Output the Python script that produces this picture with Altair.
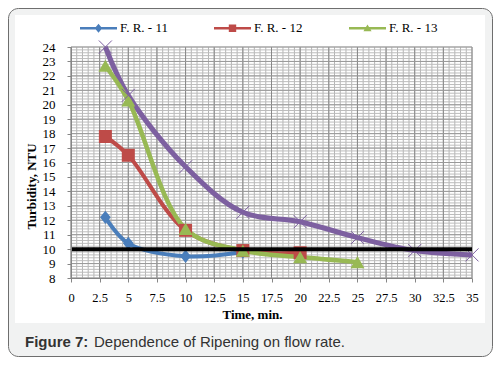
import altair as alt
import pandas as pd

# ---------------- data ----------------
series_names = ["F. R. - 11", "F. R. - 12", "F. R. - 13"]
extra_name = "F. R. - 14"

fr11_time = [3, 5, 10, 15]
fr11_ntu = [12.2, 10.4, 9.5, 9.8]
fr12_time = [3, 5, 10, 15, 20]
fr12_ntu = [17.8, 16.5, 11.3, 9.9, 9.75]
fr13_time = [3, 5, 10, 15, 20, 25]
fr13_ntu = [22.7, 20.3, 11.4, 9.9, 9.45, 9.1]
fr14_time = [3, 5, 10, 15, 20, 25, 30, 35]
fr14_ntu = [24.0, 20.65, 15.7, 12.55, 11.9, 10.8, 9.9, 9.6]
standard_ntu = [10]

x_ticks = [0, 2.5, 5, 7.5, 10, 12.5, 15, 17.5, 20, 22.5, 25, 27.5, 30, 32.5, 35]
y_ticks = list(range(8, 25))
grid_x_minor = [i * 0.5 for i in range(71)]
grid_y_minor = [round(8 + i * 0.2, 2) for i in range(81)]

caption_bold = ["Figure 7:"]
caption_text = ["Dependence of Ripening on flow rate."]

# ---------------- styles ----------------
colors = ["#4A7EBB", "#BE4B48", "#98B954"]
purple = "#7D60A0"
serif = "Liberation Serif"
sans = "Liberation Sans"

x_scale = alt.Scale(domain=[0, 35], nice=False, zero=False)
y_scale = alt.Scale(domain=[8, 24], nice=False, zero=False)


def sdf(t, v, name):
    return pd.DataFrame({"time": t, "ntu": v, "series": name})


df11 = sdf(fr11_time, fr11_ntu, series_names[0])
df12 = sdf(fr12_time, fr12_ntu, series_names[1])
df13 = sdf(fr13_time, fr13_ntu, series_names[2])
df14 = sdf(fr14_time, fr14_ntu, extra_name)
all_df = pd.concat([df11, df12, df13, df14], ignore_index=True)

one = pd.DataFrame({"k": [0]})

x_axis = alt.Axis(
    values=x_ticks, format=".1~f", title="Time, min.", grid=False, zindex=1,
    tickSize=4, tickColor="#868686", domainColor="#868686",
    labelFont=serif, labelFontSize=12.5, labelColor="black", labelPadding=9,
    labelFlush=False, labelOverlap=False,
    titleFont=serif, titleFontSize=13, titleFontWeight="bold", titleColor="black",
    titleX=181, titleY=40, titleAlign="center", titleBaseline="alphabetic",
)
y_axis = alt.Axis(
    values=y_ticks, format="d", title="Turbidity, NTU", grid=False, zindex=1,
    tickSize=4, tickColor="#868686", domainColor="#868686",
    labelFont=serif, labelFontSize=13, labelColor="black", labelPadding=12,
    labelFlush=False, labelOverlap=False,
    titleFont=serif, titleFontSize=13, titleFontWeight="bold", titleColor="black",
    titleAngle=270, titleX=-36, titleY=139, titleAlign="center", titleBaseline="alphabetic",
)


def X(field):
    return alt.X(field, scale=x_scale, axis=x_axis)


def Y(field):
    return alt.Y(field, scale=y_scale, axis=y_axis)


frame = alt.Chart(one).mark_rect(
    fill="#f1f2f2", stroke="#6e6e6e", strokeWidth=1, cornerRadius=10
).encode(x=alt.value(-62.5), x2=alt.value(421.5), y=alt.value(-38.5), y2=alt.value(309.5))

white = alt.Chart(one).mark_rect(fill="white").encode(
    x=alt.value(-56), x2=alt.value(414), y=alt.value(-32), y2=alt.value(276)
)

gx_minor = alt.Chart(pd.DataFrame({"g": grid_x_minor})).mark_rule(
    color="#b4b4b4", strokeWidth=1
).encode(x=X("g:Q"))
gy_minor = alt.Chart(pd.DataFrame({"g": grid_y_minor})).mark_rule(
    color="#bcbcbc", strokeWidth=1
).encode(y=Y("g:Q"))
gx_major = alt.Chart(pd.DataFrame({"g": x_ticks})).mark_rule(
    color="#888888", strokeWidth=1
).encode(x=X("g:Q"))
gy_major = alt.Chart(pd.DataFrame({"g": y_ticks})).mark_rule(
    color="#999999", strokeWidth=1
).encode(y=Y("g:Q"))


def line_layer(d, color, width):
    return alt.Chart(d).mark_line(
        interpolate="catmull-rom", color=color, strokeWidth=width
    ).encode(x=X("time:Q"), y=Y("ntu:Q"))


def point_layer(d, color, shape, size, filled=True, sw=0):
    return alt.Chart(d).mark_point(
        shape=shape, size=size, filled=filled, color=color, opacity=1, strokeWidth=sw
    ).encode(x=X("time:Q"), y=Y("ntu:Q"))


l14 = line_layer(df14, purple, 5)
l11 = line_layer(df11, colors[0], 4)
l12 = line_layer(df12, colors[1], 4)
l13 = line_layer(df13, colors[2], 4.5)

p11 = point_layer(df11, colors[0], "M0,-1L0.8,0L0,1L-0.8,0Z", 180)
p12 = point_layer(df12, colors[1], "square", 169)
p13 = point_layer(df13, colors[2], "triangle-up", 196)
p14 = point_layer(df14, purple, "M-1,-1L1,1M1,-1L-1,1", 169, filled=False, sw=1)

standard = alt.Chart(pd.DataFrame({"s": standard_ntu})).mark_rule(
    color="black", strokeWidth=4
).encode(y=Y("s:Q"))

legend_paths = [
    "M-1,-0.07H1V0.07H-1Z M0,-0.24L0.2,0L0,0.24L-0.2,0Z",
    "M-1,-0.07H1V0.07H-1Z M-0.2,-0.2H0.2V0.2H-0.2Z",
    "M-1,-0.07H1V0.07H-1Z M0,-0.2L0.22,0.16H-0.22Z",
]
leg = alt.Legend(
    title=None, orient="none", legendX=9, legendY=-37.5, direction="horizontal",
    columns=3, columnPadding=46, symbolSize=1369, symbolStrokeWidth=0,
    labelOffset=3, labelFont=serif, labelFontSize=13, labelColor="black",
    padding=0, symbolOpacity=1,
)
legend_layer = alt.Chart(all_df).transform_filter("false").mark_point(
    filled=True, opacity=1, size=1369
).encode(
    x=X("time:Q"),
    y=Y("ntu:Q"),
    color=alt.Color("series:N", scale=alt.Scale(domain=series_names, range=colors), legend=leg),
    shape=alt.Shape("series:N", scale=alt.Scale(domain=series_names, range=legend_paths), legend=leg),
)

cap1 = alt.Chart(pd.DataFrame({"t": caption_bold})).mark_text(
    font=sans, fontSize=15, fontWeight="bold", color="#333333", align="left", baseline="alphabetic"
).encode(x=alt.value(-46), y=alt.value(300), text="t:N")
cap2 = alt.Chart(pd.DataFrame({"t": caption_text})).mark_text(
    font=sans, fontSize=15, color="#333333", align="left", baseline="alphabetic"
).encode(x=alt.value(23), y=alt.value(300), text="t:N")

chart = alt.layer(
    frame, white, gx_minor, gy_minor, gx_major, gy_major,
    l14, l11, l12, l13, p11, p12, p13, p14, standard, legend_layer, cap1, cap2,
).resolve_scale(color="independent", shape="independent").properties(
    width=401, height=231,
    padding={"left": 63, "top": 39, "right": 21, "bottom": 79},
    autosize=alt.AutoSizeParams(type="none"),
    background="white",
).configure_view(stroke=None)

chart.save("out.html", embed_options={"renderer": "svg", "actions": False})
